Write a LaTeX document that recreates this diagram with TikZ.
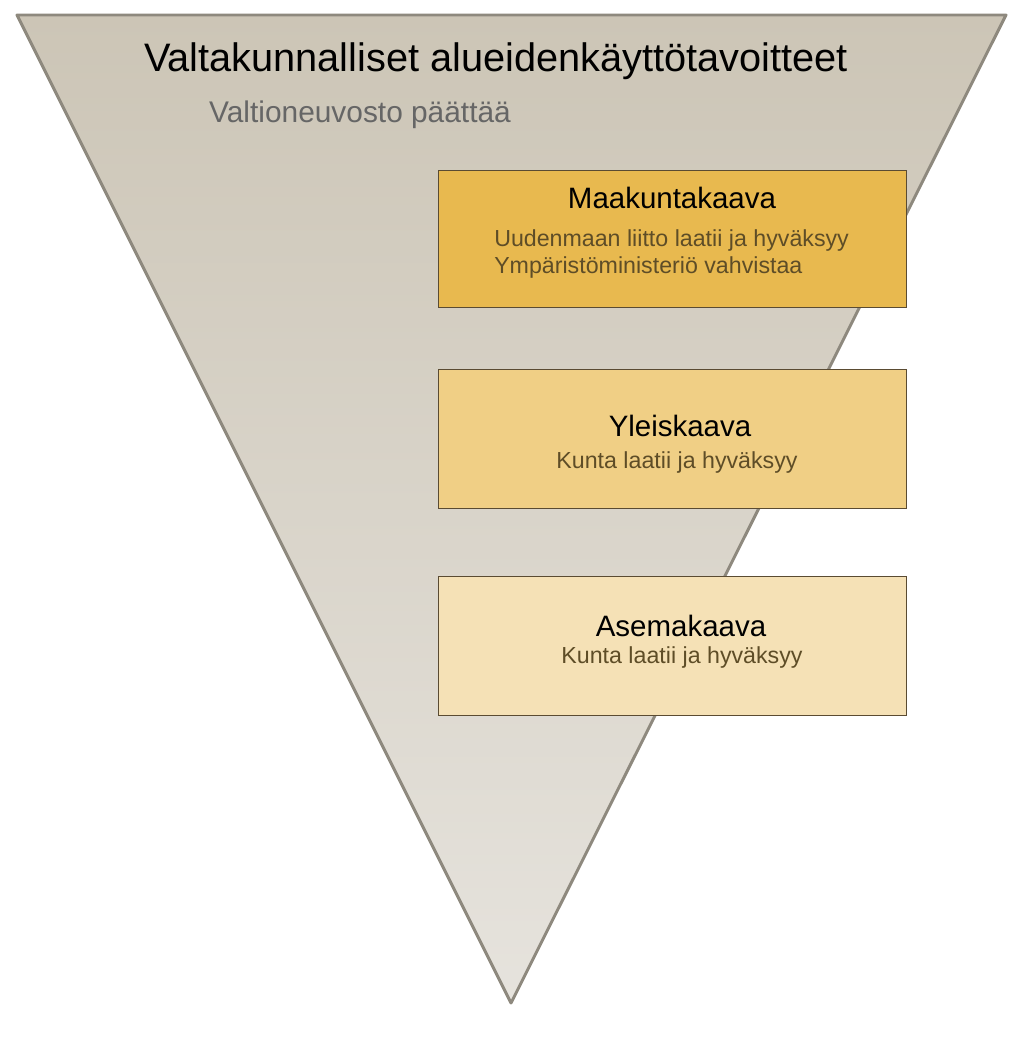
\documentclass[tikz,border=0pt]{standalone}
\usepackage{fontspec}
\setmainfont{Liberation Sans}
\definecolor{tritop}{HTML}{CCC5B6}
\definecolor{tribot}{HTML}{E6E3DD}
\definecolor{triedge}{HTML}{8E897E}
\definecolor{boxA}{HTML}{E8B94F}
\definecolor{boxB}{HTML}{F0CF85}
\definecolor{boxC}{HTML}{F5E1B6}
\definecolor{boxedge}{HTML}{5A4B32}
\definecolor{subtxt}{HTML}{5E4D27}
\definecolor{graytxt}{HTML}{666666}
\tikzset{
  planbox/.style={draw=boxedge, line width=0.8pt, minimum width=468*0.75pt, minimum height=137*0.75pt, inner sep=0pt, anchor=north west},
  boxtitle/.style={font=\fontsize{22.1}{26}\selectfont, text=black, inner sep=0pt},
  boxsub/.style={font=\fontsize{17.4}{21}\selectfont, text=subtxt, inner sep=0pt},
}
\begin{document}
\begin{tikzpicture}[x=0.75pt,y=-0.75pt]
\useasboundingbox (0,0) rectangle (1024,1042);
\shade[top color=tritop, bottom color=tribot, draw=triedge, line width=2.2pt, line join=round]
  (17,15) -- (1006,15) -- (511,1003) -- cycle;
\node[font=\fontsize{29.8}{35}\selectfont, inner sep=0pt] (title) at (496,61) {Valtakunnalliset alueidenkäyttötavoitteet};
\node[font=\fontsize{22.4}{27}\selectfont, text=graytxt, inner sep=0pt] (subtitle) at (360,115) {Valtioneuvosto päättää};

\node[planbox, fill=boxA] (maak) at (438,170) {};
\node[boxtitle] (maakt) at (672,198) {Maakuntakaava};
\node[boxsub, anchor=west] (maaks1) at (494,240) {Uudenmaan liitto laatii ja hyväksyy};
\node[boxsub, anchor=west] (maaks2) at (494,267) {Ympäristöministeriö vahvistaa};

\node[planbox, fill=boxB, minimum height=139*0.75pt] (yleis) at (438,369) {};
\node[boxtitle] (yleist) at (680,426) {Yleiskaava};
\node[boxsub] (yleiss) at (677,462) {Kunta laatii ja hyväksyy};

\node[planbox, fill=boxC, minimum height=139*0.75pt] (asema) at (438,576) {};
\node[boxtitle] (asemat) at (681,626) {Asemakaava};
\node[boxsub] (asemas) at (682,657) {Kunta laatii ja hyväksyy};
\end{tikzpicture}
\end{document}
